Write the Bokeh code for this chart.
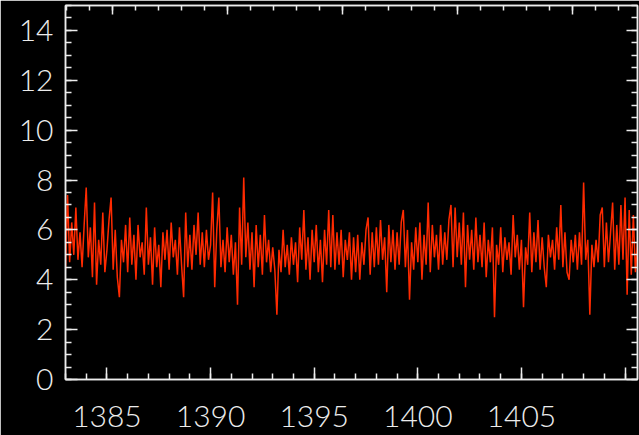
from bokeh.plotting import figure
from bokeh.models import Range1d, LinearAxis, SingleIntervalTicker
from bokeh.embed import file_html
from bokeh.resources import INLINE
import numpy as np

# Wavelength grid of the spectrum (Angstrom)
WAVE_START = 1383.0
WAVE_STEP = 0.1

# Flux, one row per Angstrom
flux = [
    4.4, 7.4, 4.7, 6.3, 5.0, 6.9, 4.8, 5.9, 4.5, 6.2,   # 1383
    7.7, 4.9, 6.1, 4.1, 7.1, 3.8, 5.6, 4.6, 6.7, 4.3,   # 1384
    5.2, 6.4, 7.3, 4.4, 6.0, 4.1, 3.3, 5.6, 4.7, 6.2,   # 1385
    4.3, 6.5, 4.6, 5.8, 4.0, 6.2, 4.9, 5.5, 4.2, 6.9,   # 1386
    4.6, 5.7, 3.8, 6.1, 4.5, 5.4, 3.7, 5.9, 4.8, 6.0,   # 1387
    4.4, 6.3, 4.9, 5.6, 4.2, 6.1, 4.6, 3.3, 6.7, 4.5,   # 1388
    5.8, 4.4, 6.2, 5.0, 6.7, 4.6, 5.9, 4.5, 6.0, 4.8,   # 1389
    5.4, 7.5, 3.7, 6.0, 7.3, 4.5, 5.6, 4.3, 6.1, 4.7,   # 1390
    5.8, 4.2, 5.5, 3.0, 6.9, 4.6, 8.1, 4.9, 6.3, 4.4,   # 1391
    5.9, 3.7, 6.2, 4.5, 5.8, 4.2, 6.6, 4.7, 5.6, 4.3,   # 1392
    5.3, 4.4, 2.6, 5.2, 4.3, 6.0, 4.5, 5.4, 4.2, 5.7,   # 1393
    4.6, 5.5, 3.9, 6.1, 4.8, 6.8, 4.4, 5.7, 4.0, 6.0,   # 1394
    4.7, 6.2, 4.3, 5.6, 3.9, 6.0, 4.6, 6.8, 4.5, 6.6,   # 1395
    4.4, 5.9, 4.6, 6.0, 4.1, 5.6, 4.8, 5.9, 4.0, 5.7,   # 1396
    4.3, 5.8, 4.0, 5.5, 4.6, 6.0, 6.5, 4.2, 5.9, 4.5,   # 1397
    6.1, 4.6, 6.4, 4.8, 5.7, 3.5, 6.2, 4.7, 6.0, 4.4,   # 1398
    5.9, 4.6, 6.3, 6.8, 4.5, 6.0, 3.2, 5.5, 4.4, 6.1,   # 1399
    4.7, 6.3, 4.0, 5.8, 4.6, 7.1, 4.3, 6.2, 4.9, 5.8,   # 1400
    4.4, 6.2, 4.6, 5.9, 4.8, 6.4, 7.0, 4.5, 6.9, 4.9,   # 1401
    6.3, 4.6, 6.7, 3.7, 6.2, 4.8, 6.0, 4.4, 6.5, 4.7,   # 1402
    5.8, 4.5, 6.3, 4.1, 5.6, 4.7, 6.1, 2.5, 5.4, 4.6,   # 1403
    6.1, 4.3, 5.7, 4.8, 5.5, 4.2, 6.6, 4.9, 5.8, 4.4,   # 1404
    5.6, 2.9, 5.3, 4.6, 6.7, 4.3, 5.9, 4.7, 6.4, 4.4,   # 1405
    5.7, 4.5, 3.7, 5.8, 4.9, 5.6, 4.4, 6.1, 4.8, 7.0,   # 1406
    4.5, 5.9, 4.3, 4.0, 5.6, 4.7, 5.8, 4.4, 5.9, 4.6,   # 1407
    7.9, 4.8, 5.6, 2.6, 5.4, 4.5, 5.6, 4.7, 6.6, 6.9,   # 1408
    4.5, 6.3, 4.7, 5.9, 7.1, 4.4, 6.2, 4.6, 7.0, 4.8,   # 1409
    7.3, 3.4, 6.8, 4.2, 6.6, 4.3, 5.5,                  # 1410
]

wave = np.round(WAVE_START + WAVE_STEP * np.arange(len(flux)), 2)

X_LIMITS = (1383.0, 1410.6)
Y_LIMITS = (0.0, 15.0)

FG = "#ececec"
LABEL_FONT = "'Lato Light', Lato, 'DejaVu Sans'"
LABEL_SIZE = "30px"

p = figure(
    width=639, height=435,
    x_range=Range1d(*X_LIMITS), y_range=Range1d(*Y_LIMITS),
    output_backend="svg", toolbar_location=None,
    background_fill_color="black", border_fill_color="black",
    min_border_left=65, min_border_right=2,
    min_border_top=5, min_border_bottom=56,
    x_axis_type=None, y_axis_type=None,
)
p.grid.visible = False
p.outline_line_color = FG
p.outline_line_width = 1.5

p.line(wave, flux, line_color="#ff2a00", line_width=1.5)


def style_axis(ax, major_in, minor_in, labels=True):
    ax.axis_line_color = FG
    ax.axis_line_width = 1.5
    ax.major_tick_line_color = FG
    ax.minor_tick_line_color = FG
    ax.major_tick_line_width = 1.5
    ax.minor_tick_line_width = 1.5
    ax.major_tick_out = 0
    ax.minor_tick_out = 0
    ax.major_tick_in = major_in
    ax.minor_tick_in = minor_in
    if labels:
        ax.major_label_text_color = FG
        ax.major_label_text_font = LABEL_FONT
        ax.major_label_text_font_size = LABEL_SIZE
    else:
        ax.major_label_text_font_size = "0px"
        ax.major_label_standoff = 0


# bottom: wavelength
bottom = LinearAxis(ticker=SingleIntervalTicker(interval=5, num_minor_ticks=5))
style_axis(bottom, 12, 6)
bottom.major_label_standoff = 26
bottom.major_label_overrides = {1410: ""}
p.add_layout(bottom, "below")

# left: flux
left = LinearAxis(ticker=SingleIntervalTicker(interval=2, num_minor_ticks=4))
style_axis(left, 12, 6)
left.major_label_standoff = 12
p.add_layout(left, "left")

# right: flux ticks only
right = LinearAxis(ticker=SingleIntervalTicker(interval=2, num_minor_ticks=4))
style_axis(right, 11, 6, labels=False)
p.add_layout(right, "right")

# top: secondary scale, ticks only
p.extra_x_ranges = {"top": Range1d(-2.04, 22.83)}
top = LinearAxis(x_range_name="top",
                 ticker=SingleIntervalTicker(interval=5, num_minor_ticks=5))
style_axis(top, 9, 5, labels=False)
p.add_layout(top, "above")

open("out.html", "w").write(file_html(p, INLINE))
